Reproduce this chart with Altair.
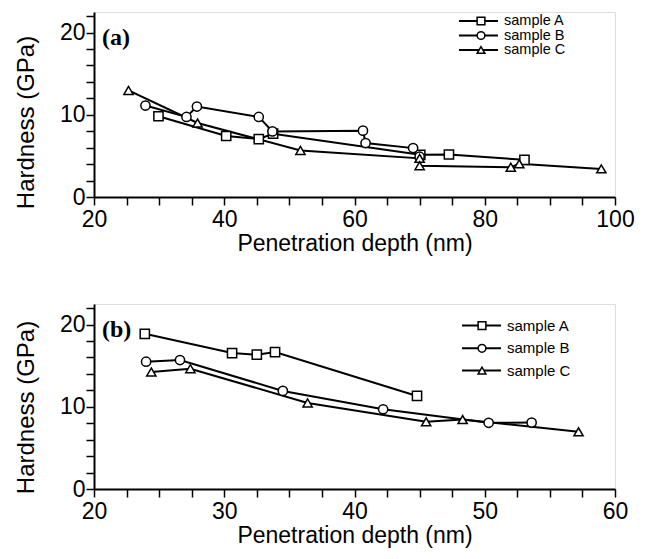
import altair as alt
import pandas as pd

samples = ["sample A", "sample B", "sample C"]
shapes = ["square", "circle", "triangle-up"]

# Panel (a) values
a_A_x = [29.9, 40.3, 45.3, 47.5, 70.1, 74.5, 86.1]
a_A_y = [9.82, 7.42, 7.05, 7.70, 5.13, 5.17, 4.52]
a_B_x = [27.9, 34.2, 35.8, 45.3, 47.4, 61.3, 61.7, 69.0, 70.0]
a_B_y = [11.12, 9.74, 11.0, 9.74, 7.98, 8.07, 6.56, 5.95, 4.9]
a_C_x = [25.3, 35.9, 51.7, 70.0, 70.0, 84.0, 85.3, 97.9]
a_C_y = [12.96, 9.0, 5.66, 4.7, 3.8, 3.63, 4.03, 3.42]

# Panel (b) values
b_A_x = [23.9, 30.6, 32.5, 33.9, 44.8]
b_A_y = [18.87, 16.53, 16.33, 16.65, 11.32]
b_B_x = [24.0, 26.6, 34.5, 42.2, 50.3, 53.6]
b_B_y = [15.48, 15.68, 11.93, 9.70, 8.05, 8.08]
b_C_x = [24.4, 27.4, 36.4, 45.5, 48.3, 57.2]
b_C_y = [14.23, 14.63, 10.47, 8.17, 8.45, 6.96]

x_ticks_a = [20 + 5 * i for i in range(17)]
x_ticks_b = [20 + 2.5 * i for i in range(17)]
y_ticks = [2 * i for i in range(12)]

FONT = "Liberation Sans"


def make_df(series):
    rows = []
    for name, xs, ys in series:
        for i, (x, y) in enumerate(zip(xs, ys)):
            rows.append({"sample": name, "idx": i, "depth": x, "hardness": y})
    return pd.DataFrame(rows)


def panel(df, xdom, xticks, xlab_step, tag, leg_rows, leg_x, title_y):
    x = alt.X(
        "depth:Q",
        scale=alt.Scale(domain=xdom, nice=False, zero=False),
        axis=alt.Axis(
            values=xticks,
            labelExpr=f"datum.value % {xlab_step} == 0 ? format(datum.value, 'd') : ''",
            title="Penetration depth (nm)",
            grid=False,
            tickSize=8,
            tickWidth=1.5,
            tickColor="black",
            domainColor="black",
            domainWidth=2,
            labelFont=FONT,
            labelFontSize=23,
            labelColor="black",
            labelPadding=3,
            labelFlush=False,
            titleFont=FONT,
            titleFontSize=23,
            titleFontWeight="normal",
            titleColor="black",
            titlePadding=1,
        ),
    )
    y = alt.Y(
        "hardness:Q",
        scale=alt.Scale(domain=[0, 22.5], nice=False),
        axis=alt.Axis(
            values=y_ticks,
            labelExpr="datum.value % 10 == 0 ? format(datum.value, 'd') : ''",
            title="Hardness  (GPa)",
            grid=False,
            tickSize=8,
            tickWidth=1.5,
            tickColor="black",
            domainColor="black",
            domainWidth=2,
            labelFont=FONT,
            labelFontSize=23,
            labelColor="black",
            labelPadding=1,
            labelFlush=False,
            titleFont=FONT,
            titleFontSize=24,
            titleFontWeight="normal",
            titleColor="black",
            titleX=-56,
            titleY=title_y,
        ),
    )
    base = alt.Chart(df)
    lines = base.mark_line(color="black", strokeWidth=2).encode(
        x=x, y=y, detail="sample:N", order="idx:Q"
    )
    pts = base.mark_point(
        filled=True, fill="white", stroke="black", strokeWidth=1.5, size=85, opacity=1
    ).encode(
        x=x,
        y=y,
        shape=alt.Shape(
            "sample:N", scale=alt.Scale(domain=samples, range=shapes), legend=None
        ),
    )
    layers = [lines, pts]
    lab = alt.Chart(pd.DataFrame({"t": [tag]})).mark_text(
        font="Liberation Serif", fontWeight="bold", fontSize=24,
        align="left", baseline="middle", color="black"
    ).encode(x=alt.value(8), y=alt.value(26), text="t:N")
    layers.append(lab)
    lx0, lx1, lmx, ltx, fs = leg_x
    for name, shp, ry in zip(samples, shapes, leg_rows):
        d = alt.Chart(pd.DataFrame({"sample": [name]}))
        layers.append(
            d.mark_rule(color="black", strokeWidth=2).encode(
                x=alt.value(lx0), x2=alt.value(lx1), y=alt.value(ry)
            )
        )
        layers.append(
            d.mark_point(
                shape=shp, filled=True, fill="white", stroke="black",
                strokeWidth=1.5, size=60, opacity=1
            ).encode(x=alt.value(lmx), y=alt.value(ry))
        )
        layers.append(
            d.mark_text(
                font=FONT, fontSize=fs, align="left", baseline="middle", color="black"
            ).encode(x=alt.value(ltx), y=alt.value(ry), text="sample:N")
        )
    return alt.layer(*layers).properties(width=521, height=185)


df_a = make_df([("sample A", a_A_x, a_A_y), ("sample B", a_B_x, a_B_y), ("sample C", a_C_x, a_C_y)])
df_b = make_df([("sample A", b_A_x, b_A_y), ("sample B", b_B_x, b_B_y), ("sample C", b_C_x, b_C_y)])

pa = panel(df_a, [20, 100], x_ticks_a, 20, "(a)", [9.0, 23.5, 38.0], (365, 404, 387, 410, 14.5), 110)
pb = panel(df_b, [20, 60], x_ticks_b, 10, "(b)", [21.6, 44.3, 66.6], (368, 407, 388, 413, 15), 103)

chart = (
    alt.vconcat(pa, pb, spacing=47)
    .properties(padding={"left": 5, "top": 3, "right": 5, "bottom": 5})
    .configure_view(stroke="black", strokeWidth=2)
    .configure(background="white")
)

chart.save("out.html", embed_options={"renderer": "svg", "actions": False})
